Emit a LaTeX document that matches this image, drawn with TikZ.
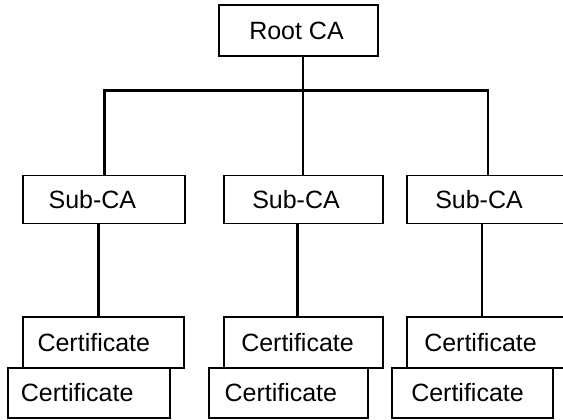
\documentclass[tikz,border=0pt]{standalone}
\usepackage{fontspec}
\setmainfont{Liberation Sans}
\begin{document}
\begin{tikzpicture}[x=1pt,y=-1pt,
  box/.style={draw=black,line width=1.9pt,fill=white,rectangle,inner sep=0pt,minimum height=#1},
  box/.default=48pt,
  lbl/.style={anchor=west,inner sep=0pt,font=\fontsize{25}{29}\selectfont},
  conn/.style={line width=2.8pt,line cap=rect}]
\useasboundingbox (0,0) rectangle (563,420);
% root
\node[box=51pt,minimum width=159pt] (root) at (298.5,30.5) {};
% sub-CAs
\node[box=48pt,minimum width=161.7pt] (sub1) at (104.2,199.5) {};
\node[box=48pt,minimum width=159pt] (sub2) at (303.5,199.5) {};
\node[box=48pt,minimum width=159pt] (sub3) at (486.5,199.5) {};
% upper certificates
\node[box=51pt,minimum width=161pt] (c1a) at (103.8,342.5) {};
\node[box=51pt,minimum width=159pt] (c2a) at (303.5,342.5) {};
\node[box=51pt,minimum width=159pt] (c3a) at (486.5,342.5) {};
% lower certificates
\node[box=50pt,minimum width=162.3pt] (c1b) at (88.8,393) {};
\node[box=50pt,minimum width=159pt] (c2b) at (288.8,393) {};
\node[box=50pt,minimum width=161pt] (c3b) at (472.5,393) {};
% labels
\node[lbl] (troot) at ([xshift=31pt]root.west) {Root CA};
\node[lbl] (tsub1) at ([xshift=26pt]sub1.west) {Sub-CA};
\node[lbl] (tsub2) at ([xshift=29pt]sub2.west) {Sub-CA};
\node[lbl] (tsub3) at ([xshift=29pt]sub3.west) {Sub-CA};
\node[lbl] (tc1a) at ([xshift=15pt]c1a.west) {Certificate};
\node[lbl] (tc2a) at ([xshift=18pt]c2a.west) {Certificate};
\node[lbl] (tc3a) at ([xshift=18pt]c3a.west) {Certificate};
\node[lbl] (tc1b) at ([xshift=14pt]c1b.west) {Certificate};
\node[lbl] (tc2b) at ([xshift=16pt]c2b.west) {Certificate};
\node[lbl] (tc3b) at ([xshift=20pt]c3b.west) {Certificate};
% connectors
\coordinate (bar) at (303,90.7);
\coordinate (barl) at (sub1.north |- bar);
\coordinate (barr) at ([xshift=1.5pt]sub3.north |- bar);
\draw[conn] (root.south -| bar) -- (bar);
\draw[conn] (barl) -- (barr);
\draw[conn] (barl) -- (sub1.north);
\draw[conn] (bar) -- (bar |- sub2.north);
\draw[conn] (barr) -- (barr |- sub3.north);
\draw[conn] ([xshift=-6pt]sub1.south) -- ([xshift=-6pt]sub1.south |- c1a.north);
\draw[conn] ([xshift=-6pt]sub2.south) -- ([xshift=-6pt]sub2.south |- c2a.north);
\draw[conn] ([xshift=-4.5pt]sub3.south) -- ([xshift=-4.5pt]sub3.south |- c3a.north);
\end{tikzpicture}
\end{document}
